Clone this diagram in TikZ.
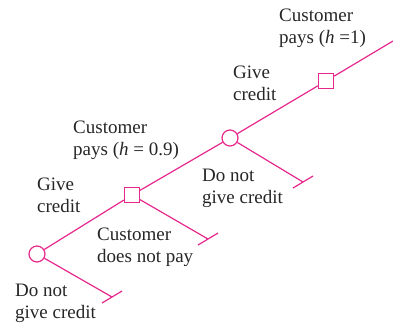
\documentclass[tikz,border=0pt]{standalone}
\usepackage{fontspec}
\setmainfont{Liberation Serif}
\definecolor{treepink}{RGB}{230,40,140}
\begin{document}
\begin{tikzpicture}[x=1pt,y=-1pt,
  branch/.style={draw=treepink,line width=1.2pt},
  chance/.style={circle,draw=treepink,line width=1.2pt,minimum size=16pt,inner sep=0pt},
  decision/.style={rectangle,draw=treepink,line width=1.2pt,minimum size=15pt,inner sep=0pt},
  lbl/.style={anchor=north west,inner sep=0pt,align=left,text=black!85,
    font=\fontsize{19}{21.5}\selectfont}]
\useasboundingbox (0,0) rectangle (393,322);
% decision nodes
\node[chance] (c1) at (37,254) {};
\node[decision] (s1) at (132,195) {};
\node[chance] (c2) at (230,138) {};
\node[decision] (s2) at (326,81) {};
% ends
\coordinate (e1) at (112,297);
\coordinate (e2) at (208,239);
\coordinate (e3) at (303,182);
\coordinate (top) at (393,41);
% branches
\draw[branch] (c1) -- (s1);
\draw[branch] (s1) -- (c2);
\draw[branch] (c2) -- (s2);
\draw[branch] (s2) -- (top);
\draw[branch] (c1) -- (e1);
\draw[branch] (s1) -- (e2);
\draw[branch] (c2) -- (e3);
% terminal ticks
\foreach \e in {e1,e2,e3}
  \draw[branch] ([shift={(-10,6)}]\e) -- ([shift={(10,-6)}]\e);
% labels
\node[lbl] (t1) at (279,9) {Customer\\pays (\textit{h} =1)};
\node[lbl] (t2) at (233,66) {Give\\credit};
\node[lbl] (t3) at (202,169) {Do not\\give credit};
\node[lbl] (t4) at (73,121) {Customer\\pays (\textit{h} = 0.9)};
\node[lbl] (t5) at (37,178) {Give\\credit};
\node[lbl] (t6) at (97,228) {Customer\\does not pay};
\node[lbl] (t7) at (15,284) {Do not\\give credit};
\end{tikzpicture}
\end{document}
